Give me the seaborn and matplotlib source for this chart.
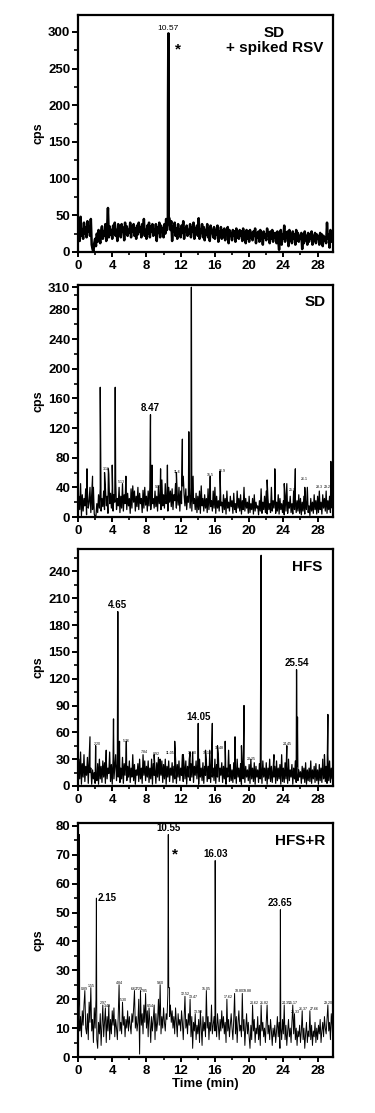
import numpy as np
import pandas as pd
import matplotlib
matplotlib.use("Agg")
import matplotlib.pyplot as plt
import seaborn as sns
from matplotlib.ticker import MultipleLocator

# sampling interval of the baseline traces (min)
STEP = 0.1

# ---- SD + spiked RSV ----
sd_rsv_base = [
    20, 35, 15, 48, 22, 30, 18, 40, 25, 33,
    20, 42, 28, 35, 22, 45, 10, 4, 0, 12,
    18, 8, 25, 14, 30, 20, 12, 28, 35, 18,
    28, 22, 38, 15, 32, 60, 20, 35, 24, 30,
    18, 36, 25, 40, 22, 30, 15, 38, 26, 34,
    20, 38, 28, 33, 16, 40, 25, 35, 22, 30,
    26, 40, 20, 35, 28, 38, 22, 32, 18, 36,
    24, 40, 28, 34, 20, 38, 26, 45, 22, 30,
    18, 36, 25, 40, 20, 35, 28, 38, 22, 30,
    24, 38, 15, 34, 26, 40, 20, 36, 28, 32,
    20, 38, 25, 45, 30, 40, 48, 45, 30, 42,
    15, 35, 28, 40, 22, 32, 18, 38, 25, 30,
    20, 36, 26, 42, 18, 32, 28, 36, 22, 30,
    25, 38, 20, 34, 28, 40, 18, 32, 26, 36,
    22, 46, 18, 30, 26, 38, 20, 34, 16, 30,
    24, 38, 20, 32, 15, 36, 26, 30, 20, 34,
    18, 30, 24, 36, 14, 28, 22, 34, 18, 30,
    20, 32, 16, 28, 24, 34, 12, 30, 22, 26,
    16, 30, 22, 28, 14, 32, 20, 26, 18, 30,
    22, 28, 15, 32, 20, 26, 12, 30, 18, 28,
    14, 30, 20, 26, 16, 28, 22, 32, 12, 26,
    20, 28, 14, 30, 18, 26, 10, 28, 20, 24,
    16, 32, 22, 26, 12, 28, 18, 30, 14, 26,
    20, 26, 12, 28, 16, 3, 22, 30, 10, 24,
    18, 36, 14, 26, 20, 28, 8, 30, 16, 24,
    12, 28, 18, 24, 10, 30, 16, 26, 14, 22,
    18, 26, 4, 24, 12, 28, 16, 22, 10, 26,
    14, 24, 18, 28, 10, 22, 16, 26, 12, 24,
    18, 22, 10, 26, 14, 24, 8, 22, 16, 20,
    12, 40, 18, 24, 6, 30, 14, 22, 18, 20,
]
sd_rsv_peak_t = [10.52, 10.55, 10.57, 10.59]
sd_rsv_peak_h = [200, 280, 298, 260]

# ---- SD ----
sd_base = [
    5, 28, 10, 45, 2, 30, 8, 25, 15, 38,
    3, 35, 12, 20, 40, 6, 32, 10, 40, 4,
    0, 2, 18, 6, 30, 12, 38, 8, 25, 14,
    35, 10, 40, 15, 28, 5, 58, 18, 32, 12,
    38, 8, 30, 20, 50, 10, 25, 15, 40, 6,
    28, 12, 45, 8, 30, 18, 48, 10, 32, 15,
    25, 5, 38, 12, 42, 20, 35, 8, 28, 14,
    40, 10, 32, 18, 25, 6, 36, 12, 40, 16,
    28, 8, 35, 15, 40, 10, 30, 18, 25, 12,
    35, 14, 28, 8, 42, 18, 30, 10, 50, 15,
    30, 12, 45, 18, 25, 8, 40, 20, 35, 14,
    38, 10, 30, 22, 45, 12, 28, 16, 40, 8,
    35, 18, 42, 55, 30, 15, 38, 10, 28, 20,
    45, 12, 30, 8, 40, 18, 25, 10, 32, 6,
    28, 10, 35, 5, 42, 15, 25, 8, 30, 12,
    25, 6, 38, 10, 30, 14, 22, 8, 35, 12,
    40, 5, 28, 12, 22, 8, 32, 15, 20, 6,
    30, 10, 25, 4, 35, 12, 20, 8, 28, 14,
    22, 5, 32, 10, 18, 6, 35, 12, 25, 8,
    30, 4, 22, 10, 40, 8, 25, 12, 20, 5,
    28, 6, 18, 10, 25, 4, 30, 8, 20, 12,
    15, 3, 22, 8, 38, 5, 20, 10, 28, 6,
    35, 4, 25, 10, 18, 6, 40, 8, 22, 12,
    28, 5, 20, 8, 30, 4, 25, 10, 18, 6,
    22, 3, 30, 8, 45, 5, 20, 12, 28, 6,
    18, 4, 35, 10, 25, 6, 22, 8, 30, 5,
    25, 3, 20, 8, 28, 4, 18, 10, 40, 6,
    15, 2, 25, 8, 20, 5, 30, 10, 22, 4,
    28, 6, 35, 10, 20, 4, 30, 12, 25, 8,
    35, 5, 22, 10, 28, 6, 20, 12, 30, 8,
]
sd_peak_t = [1.05, 1.7, 2.6, 3.1, 3.55, 4.0, 4.35, 5.6, 8.47, 8.65, 9.65,
             10.45, 11.5, 12.2, 12.95, 13.25, 13.45, 15.45, 16.6, 22.1,
             23.0, 24.1, 25.4, 26.5, 29.55]
sd_peak_h = [65, 55, 175, 60, 65, 70, 175, 55, 138, 70, 65,
             70, 60, 105, 115, 310, 55, 55, 62, 50,
             65, 45, 65, 40, 75]

# ---- HFS ----
hfs_base = [
    4, 30, 8, 38, 2, 25, 10, 35, 5, 22,
    12, 32, 3, 28, 15, 20, 2, 18, 8, 15,
    3, 12, 6, 25, 2, 30, 8, 22, 4, 28,
    10, 26, 3, 30, 8, 20, 14, 38, 5, 24,
    2, 30, 8, 22, 35, 6, 25, 10, 28, 4,
    20, 8, 32, 3, 25, 12, 30, 6, 22, 10,
    28, 4, 20, 10, 35, 6, 24, 2, 18, 12,
    25, 5, 30, 8, 20, 3, 35, 12, 28, 6,
    22, 10, 28, 4, 20, 8, 30, 2, 25, 12,
    18, 3, 26, 10, 32, 6, 20, 12, 28, 4,
    24, 8, 30, 2, 22, 10, 28, 5, 20, 12,
    26, 4, 22, 8, 30, 3, 24, 10, 28, 6,
    20, 12, 35, 5, 24, 8, 28, 2, 22, 10,
    30, 6, 25, 10, 38, 4, 22, 12, 28, 8,
    24, 2, 30, 10, 20, 6, 26, 3, 22, 12,
    28, 5, 22, 8, 40, 4, 25, 10, 20, 6,
    30, 3, 24, 10, 35, 5, 20, 12, 26, 4,
    22, 8, 28, 2, 20, 10, 38, 5, 24, 6,
    18, 4, 26, 8, 22, 3, 30, 10, 20, 5,
    25, 2, 20, 8, 28, 4, 22, 10, 18, 6,
    24, 3, 30, 8, 20, 5, 26, 2, 22, 10,
    18, 4, 25, 8, 22, 3, 28, 10, 20, 6,
    26, 2, 20, 8, 30, 5, 22, 4, 18, 10,
    22, 3, 28, 6, 20, 8, 24, 2, 35, 5,
    20, 4, 26, 8, 22, 3, 30, 6, 18, 10,
    24, 2, 20, 8, 28, 4, 22, 6, 18, 10,
    16, 3, 22, 8, 20, 4, 26, 2, 18, 6,
    20, 5, 28, 3, 18, 8, 22, 4, 25, 6,
    18, 2, 24, 6, 20, 4, 30, 8, 16, 5,
    22, 3, 35, 6, 28, 4, 20, 8, 15, 5,
]
hfs_peak_t = [1.4, 2.06, 3.3, 4.15, 4.65, 4.85, 5.65, 7.6, 8.9, 9.6, 11.3,
              12.3, 13.1, 14.05, 14.9, 15.7, 16.3, 17.2, 17.6, 18.35, 19.1,
              19.4, 21.4, 22.9, 24.4, 25.54, 25.65, 28.8, 29.2]
hfs_peak_h = [55, 45, 40, 75, 195, 50, 50, 35, 35, 30, 50,
              35, 38, 70, 40, 70, 45, 50, 40, 55, 45,
              90, 258, 35, 45, 130, 77, 35, 80]

# ---- HFS+R ----
hfsr_base = [
    12, 20, 9, 14, 7, 16, 11, 18, 23, 10,
    8, 15, 6, 19, 12, 24, 9, 13, 5, 17,
    10, 20, 6, 3, 12, 8, 15, 4, 11, 18,
    7, 12, 17, 5, 14, 9, 18, 6, 13, 8,
    16, 11, 17, 7, 13, 10, 6, 14, 25, 9,
    12, 8, 19, 11, 14, 7, 13, 10, 16, 9,
    14, 11, 8, 15, 12, 17, 23, 10, 14, 9,
    12, 20, 1, 23, 11, 15, 8, 18, 12, 22,
    10, 16, 7, 17, 12, 5, 14, 9, 13, 18,
    6, 15, 9, 12, 20, 11, 25, 8, 14, 10,
    17, 12, 9, 15, 13, 22, 24, 14, 18, 12,
    16, 10, 14, 8, 17, 12, 7, 15, 11, 13,
    9, 16, 12, 6, 14, 21, 10, 13, 8, 15,
    11, 20, 7, 14, 3, 12, 9, 15, 6, 11,
    8, 13, 5, 16, 10, 4, 14, 9, 12, 7,
    23, 10, 14, 6, 12, 9, 18, 8, 11, 14,
    9, 12, 7, 15, 11, 6, 13, 9, 16, 10,
    14, 8, 12, 5, 20, 9, 13, 7, 11, 15,
    10, 6, 13, 22, 8, 14, 5, 12, 16, 9,
    11, 7, 22, 9, 13, 4, 10, 15, 8, 12,
    7, 3, 11, 6, 18, 9, 13, 5, 10, 8,
    14, 6, 11, 4, 18, 9, 12, 7, 10, 5,
    12, 18, 8, 11, 6, 13, 9, 4, 10, 7,
    11, 5, 9, 14, 7, 12, 3, 10, 6, 13,
    8, 18, 6, 11, 4, 9, 13, 7, 10, 5,
    12, 18, 8, 15, 6, 10, 4, 9, 7, 11,
    5, 9, 16, 6, 10, 3, 8, 12, 5, 9,
    7, 16, 6, 11, 4, 9, 7, 12, 5, 10,
    6, 11, 8, 13, 5, 9, 12, 7, 14, 10,
    8, 13, 18, 9, 12, 6, 15, 11, 4, 9,
]
hfsr_peak_t = [0.15, 2.15, 10.55, 10.7, 16.03, 23.65]
hfsr_peak_h = [77, 55, 77, 24, 68, 51]

# labelled peaks (bold) and small peak-picking labels
sd_rsv_marks = [("10.57", 10.57, 300)]
sd_marks = [("8.47", 8.47, 140)]
hfs_marks = [("4.65", 4.65, 197), ("14.05", 14.05, 72), ("25.54", 25.54, 132)]
hfsr_marks = [("10.55", 10.55, 77.5), ("16.03", 16.03, 68.5), ("23.65", 23.65, 51.5)]

sd_small = [("3.16", 3.3, 62), ("5.13", 5.1, 45), ("9.15", 9.4, 38), ("11.6", 11.6, 58),
            ("15.5", 15.4, 54), ("16.9", 16.9, 59), ("25.0", 25.0, 34), ("26.1", 26.4, 49),
            ("28.3", 28.2, 38), ("29.2", 29.1, 38)]
hfs_small = [("2.20", 2.2, 45), ("5.76", 5.7, 48), ("7.84", 7.8, 36), ("8.92", 9.2, 33),
             ("11.05", 10.8, 35), ("13.30", 13.3, 35), ("15.13", 15.1, 35), ("16.48", 16.5, 40),
             ("20.25", 20.2, 28), ("24.45", 24.5, 45)]
hfsr_small = [("0.89", 0.8, 23), ("1.55", 1.5, 24), ("2.97", 3.0, 18), ("3.43", 3.4, 17),
              ("4.84", 4.8, 25), ("5.30", 5.3, 19), ("6.62", 6.6, 23), ("7.29", 7.2, 23),
              ("7.85", 7.8, 22), ("8.54", 8.5, 17), ("9.60", 9.6, 25), ("12.52", 12.5, 21),
              ("13.47", 13.5, 20), ("13.98", 14.0, 15), ("15.05", 15.0, 23), ("17.62", 17.6, 20),
              ("18.80", 18.8, 22), ("19.88", 19.8, 22), ("20.62", 20.6, 18), ("21.82", 21.8, 18),
              ("24.35", 24.3, 18), ("25.17", 25.2, 18), ("25.33", 25.4, 15), ("26.37", 26.3, 16),
              ("27.66", 27.6, 16), ("29.20", 29.2, 18)]


def trace(base, peak_t, peak_h):
    t = np.arange(len(base)) * STEP
    df = pd.concat([pd.DataFrame({"time": t, "cps": base}),
                    pd.DataFrame({"time": peak_t, "cps": peak_h})])
    return df.sort_values("time", kind="mergesort").reset_index(drop=True)


sns.set_style("ticks")
plt.rcParams["font.family"] = ["Liberation Sans", "DejaVu Sans"]
plt.rcParams["font.weight"] = "bold"
plt.rcParams["axes.labelweight"] = "bold"
plt.rcParams["text.color"] = "black"
plt.rcParams["axes.labelcolor"] = "black"

fig = plt.figure(figsize=(3.75, 11.13), dpi=100)

W, H = 375, 1113
boxes = [(15, 252), (285, 517), (549, 786), (823, 1057)]  # top, bottom in px

panels = [
    dict(df=trace(sd_rsv_base, sd_rsv_peak_t, sd_rsv_peak_h), top=323, major=50, minor=25,
         title="SD\n+ spiked RSV", tx=0.77, lw=1.8, marks=sd_rsv_marks, small=[], star=(11.7, 276)),
    dict(df=trace(sd_base, sd_peak_t, sd_peak_h), top=313, major=40, minor=20,
         title="SD", tx=0.97, lw=0.9, marks=sd_marks, small=sd_small, star=None),
    dict(df=trace(hfs_base, hfs_peak_t, hfs_peak_h), top=265, major=30, minor=15,
         title="HFS", tx=0.96, lw=0.9, marks=hfs_marks, small=hfs_small, star=None),
    dict(df=trace(hfsr_base, hfsr_peak_t, hfsr_peak_h), top=81, major=10, minor=5,
         title="HFS+R", tx=0.97, lw=0.7, marks=hfsr_marks, small=hfsr_small, star=(11.3, 70)),
]

for i, (p, (top_px, bot_px)) in enumerate(zip(panels, boxes)):
    ax = fig.add_axes([78 / W, 1 - bot_px / H, 255 / W, (bot_px - top_px) / H])
    sns.lineplot(data=p["df"], x="time", y="cps", ax=ax, estimator=None, sort=False,
                 color="black", linewidth=p["lw"])
    ax.set_xlim(0, 29.8)
    ax.set_ylim(0, p["top"])
    ax.xaxis.set_major_locator(MultipleLocator(4))
    ax.xaxis.set_minor_locator(MultipleLocator(2))
    ax.yaxis.set_major_locator(MultipleLocator(p["major"]))
    ax.yaxis.set_minor_locator(MultipleLocator(p["minor"]))
    if i == 1:
        ax.set_yticks([0, 40, 80, 120, 160, 200, 240, 280, 310])
    for s in ax.spines.values():
        s.set_linewidth(1.6)
        s.set_color("black")
    ax.tick_params(axis="y", which="major", length=4.5, width=1.4, pad=1)
    ax.tick_params(axis="y", which="minor", length=3, width=1.2)
    ax.tick_params(axis="x", which="major", length=3.5, width=1.4, pad=2)
    ax.tick_params(axis="x", which="minor", length=2.5, width=1.2)
    ax.tick_params(which="both", color="black", labelcolor="black", labelsize=9.5)
    ax.set_ylabel("cps", fontsize=9, fontweight="bold")
    ax.yaxis.set_label_coords(-0.13, 0.5)
    if i == 3:
        ax.set_xlabel("Time (min)", fontsize=9.5, fontweight="bold", labelpad=1)
    else:
        ax.set_xlabel("")

    ax.text(p["tx"], 0.955, p["title"], transform=ax.transAxes, fontsize=11,
            fontweight="bold", ha="center" if i == 0 else "right", va="top",
            multialignment="center", linespacing=1.1)

    for lab, x, y in p["marks"]:
        if i == 0:
            ax.text(x, y, lab, fontsize=6, fontweight="normal", ha="center", va="bottom")
        else:
            ax.text(x, y, lab, fontsize=7, fontweight="bold", ha="center", va="bottom")
    if i == 3:
        ax.text(2.3, 55, "2.15", fontsize=7, fontweight="bold", ha="left", va="center")
    for lab, x, y in p["small"]:
        ax.text(x, y, lab, fontsize=2.6, fontweight="normal", ha="center", va="bottom")
    if p["star"] is not None:
        ax.text(p["star"][0], p["star"][1], "*", fontsize=11, fontweight="bold",
                ha="center", va="center")

fig.savefig("out.png", dpi=100)
